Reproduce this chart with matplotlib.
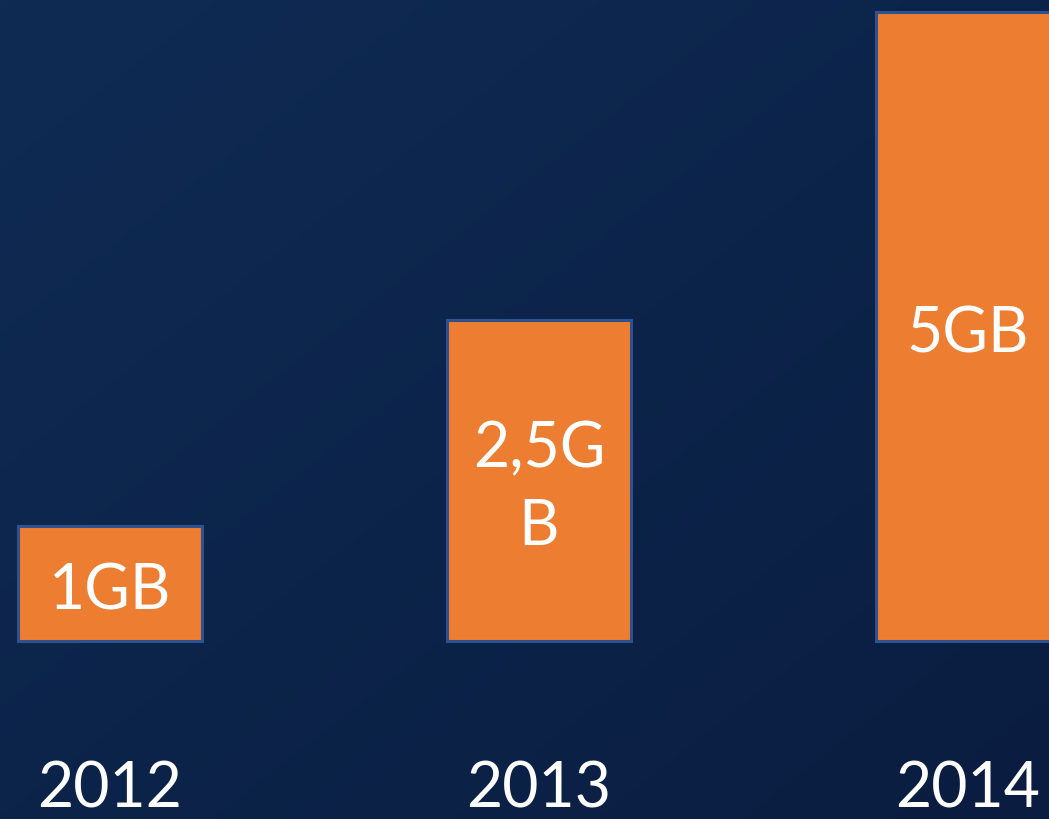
import numpy as np
import matplotlib
matplotlib.use("Agg")
import matplotlib.pyplot as plt
from matplotlib.colors import LinearSegmentedColormap
import matplotlib.transforms as mtransforms

years = ["2012", "2013", "2014"]
bar_labels = ["1GB", "2,5G\nB", "5GB"]
bar_heights = [1.0, 2.79, 5.47]

W, H, DPI = 1049, 819, 100
fig = plt.figure(figsize=(W / DPI, H / DPI), dpi=DPI)

# background gradient
bg = fig.add_axes([0, 0, 1, 1], zorder=0)
yy, xx = np.mgrid[0:1:200j, 0:1:200j]
grad = (xx + yy) / 2.0
cmap = LinearSegmentedColormap.from_list("bg", ["#0f2b54", "#0a1d40"])
bg.imshow(grad, cmap=cmap, aspect="auto", extent=[0, 1, 0, 1], origin="upper")
bg.axis("off")

base_px = 641
ax = fig.add_axes([0, 1 - base_px / H, 1, base_px / H], zorder=1)
ax.patch.set_alpha(0)
spacing = 429.0
c0 = 110.0
x = np.arange(len(years))
ax.set_xlim(-c0 / spacing, (W - c0) / spacing)
ax.set_ylim(0, base_px / 115.0)
width = 184.0 / spacing
ax.bar(x, bar_heights, width=width, color="#ED7D31", edgecolor="#2F528F",
       linewidth=2.2, clip_on=False)
for xi, h, lab in zip(x, bar_heights, bar_labels):
    ax.text(xi, h / 2 - 0.07, lab, ha="center", va="center", color="white",
            fontsize=45, family="Lato", linespacing=1.42)
trans = mtransforms.blended_transform_factory(ax.transData, fig.transFigure)
for xi, yr in zip(x, years):
    ax.text(xi, 1 - 790 / H, yr, transform=trans, ha="center", va="center",
            color="white", fontsize=45, family="Lato")
ax.axis("off")

fig.savefig("out.png", dpi=DPI)
